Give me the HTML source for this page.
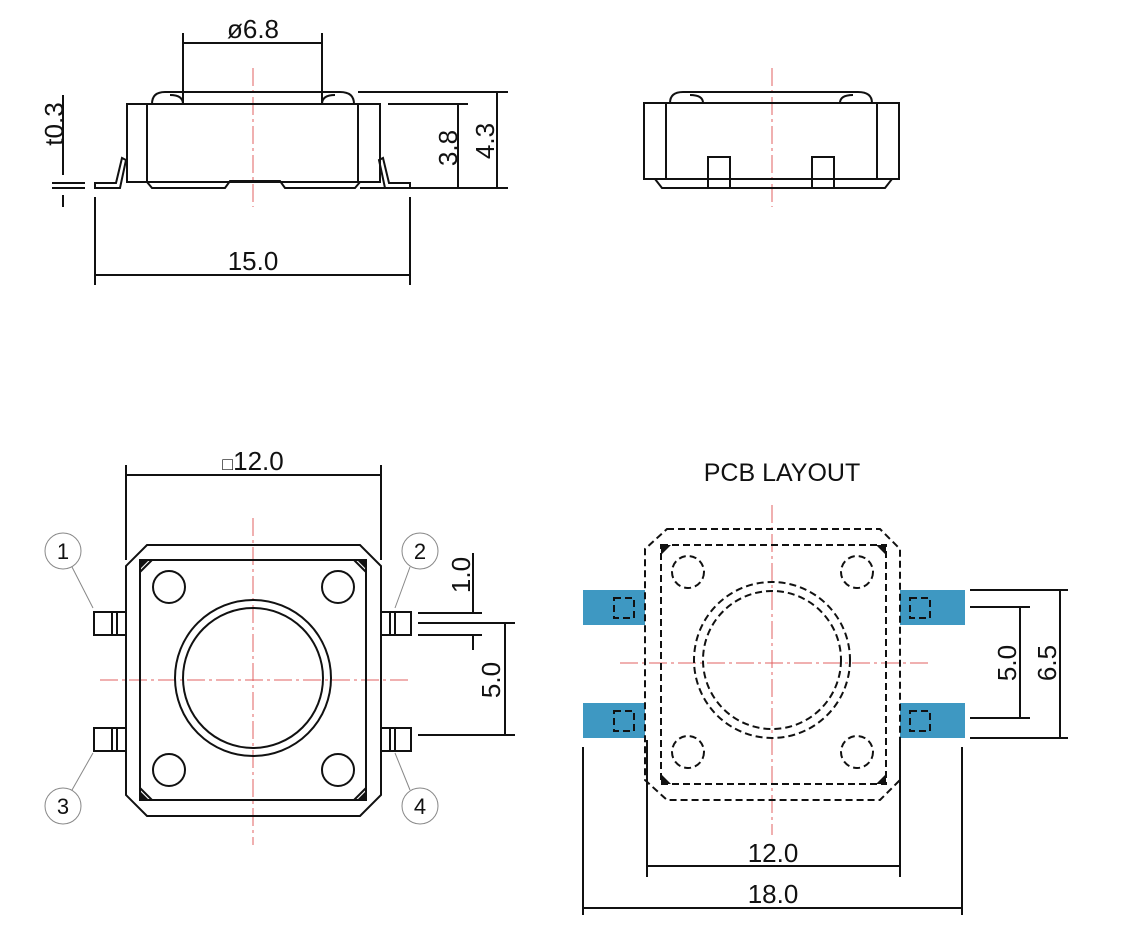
<!DOCTYPE html>
<html><head><meta charset="utf-8"><style>body{margin:0;background:#fff}svg{display:block}text{font-family:"Liberation Sans",sans-serif;fill:#111}</style></head><body>
<svg width="1132" height="930" viewBox="0 0 1132 930" xmlns="http://www.w3.org/2000/svg">
<g stroke="#e06060" stroke-width="1" stroke-dasharray="18,4,3,4" fill="none">
<line x1="253" y1="68" x2="253" y2="207"/>
<line x1="772" y1="68" x2="772" y2="207"/>
<line x1="253" y1="518" x2="253" y2="845"/>
<line x1="100" y1="680" x2="412" y2="680"/>
<line x1="772" y1="505" x2="772" y2="835"/>
<line x1="620" y1="663" x2="930" y2="663"/>
</g>
<g stroke="#111" stroke-width="2" fill="none">
<!-- top-left side view -->
<rect x="127" y="104" width="253" height="78"/>
<line x1="147" y1="104" x2="147" y2="182"/><line x1="358" y1="104" x2="358" y2="182"/>
<path d="M152 104 Q152 92 165 92 L340 92 Q354 92 354 104"/>
<path d="M183 104 Q183 95 170 95 M322 104 Q322 95 335 95"/>
<path d="M147 182 L152 188 L225 188 L230 181 L280 181 L285 188 L355 188 L360 182"/>
<path d="M95 188 L120 188 L126 160 L122 158 L116 183 L95 183 Z"/>
<path d="M410 188 L385 188 L379 160 L383 158 L389 183 L410 183 Z"/>
<line x1="183" y1="33" x2="183" y2="103"/><line x1="322" y1="33" x2="322" y2="103"/><line x1="183" y1="43" x2="322" y2="43"/>
<line x1="358" y1="92" x2="508" y2="92"/><line x1="388" y1="104" x2="468" y2="104"/><line x1="360" y1="188" x2="508" y2="188"/>
<line x1="458" y1="104" x2="458" y2="188"/><line x1="497" y1="92" x2="497" y2="188"/>
<line x1="63" y1="95" x2="63" y2="175"/><line x1="52" y1="183" x2="85" y2="183"/><line x1="52" y1="188" x2="85" y2="188"/><line x1="63" y1="195" x2="63" y2="207"/>
<line x1="95" y1="197" x2="95" y2="285"/><line x1="410" y1="197" x2="410" y2="285"/><line x1="95" y1="275" x2="410" y2="275"/>
<!-- top-right -->
<rect x="644" y="103" width="255" height="76"/>
<line x1="666" y1="103" x2="666" y2="179"/><line x1="877" y1="103" x2="877" y2="179"/>
<path d="M670 103 Q670 92 683 92 L858 92 Q872 92 872 103"/>
<path d="M703 103 Q703 95 690 95 M840 103 Q840 95 853 95"/>
<line x1="703" y1="92" x2="840" y2="92"/>
<path d="M655 179 L662 188 L885 188 L892 179"/>
<rect x="708" y="157" width="22" height="31"/><rect x="812" y="157" width="22" height="31"/>
<!-- bottom-left top view -->
<path d="M147 545 L360 545 L381 566 L381 795 L360 816 L147 816 L126 795 L126 566 Z"/>
<rect x="140" y="560" width="226" height="240"/>
<path d="M140 572 L152 560 M354 560 L366 572 M140 788 L152 800 M354 800 L366 788"/>
<circle cx="169" cy="587" r="16"/><circle cx="338" cy="587" r="16"/><circle cx="169" cy="770" r="16"/><circle cx="338" cy="770" r="16"/>
<circle cx="253" cy="678" r="78"/><circle cx="253" cy="678" r="70"/>
<rect x="94" y="612" width="32" height="23"/><rect x="94" y="728" width="32" height="23"/>
<rect x="381" y="612" width="30" height="23"/><rect x="381" y="728" width="30" height="23"/>
<line x1="112" y1="612" x2="112" y2="635"/><line x1="117" y1="612" x2="117" y2="635"/>
<line x1="112" y1="728" x2="112" y2="751"/><line x1="117" y1="728" x2="117" y2="751"/>
<line x1="390" y1="612" x2="390" y2="635"/><line x1="395" y1="612" x2="395" y2="635"/>
<line x1="390" y1="728" x2="390" y2="751"/><line x1="395" y1="728" x2="395" y2="751"/>
<line x1="126" y1="465" x2="126" y2="560"/><line x1="381" y1="465" x2="381" y2="560"/><line x1="126" y1="475" x2="381" y2="475"/>
<line x1="418" y1="613" x2="482" y2="613"/><line x1="418" y1="623" x2="515" y2="623"/><line x1="418" y1="635" x2="482" y2="635"/><line x1="418" y1="735" x2="515" y2="735"/>
<line x1="473" y1="553" x2="473" y2="613"/><line x1="473" y1="635" x2="473" y2="650"/><line x1="505" y1="623" x2="505" y2="735"/>
<!-- PCB -->
<line x1="647" y1="740" x2="647" y2="877"/><line x1="900" y1="740" x2="900" y2="877"/><line x1="647" y1="866" x2="900" y2="866"/>
<line x1="583" y1="747" x2="583" y2="915"/><line x1="962" y1="747" x2="962" y2="915"/><line x1="583" y1="908" x2="962" y2="908"/>
<line x1="970" y1="590" x2="1068" y2="590"/><line x1="970" y1="607" x2="1030" y2="607"/><line x1="970" y1="718" x2="1030" y2="718"/><line x1="970" y1="738" x2="1068" y2="738"/>
<line x1="1020" y1="607" x2="1020" y2="718"/><line x1="1060" y1="590" x2="1060" y2="738"/>
</g>
<g stroke="#888" stroke-width="1" fill="none">
<circle cx="63" cy="551" r="18"/><circle cx="420" cy="551" r="18"/><circle cx="63" cy="806" r="18"/><circle cx="420" cy="806" r="18"/>
<line x1="72" y1="567" x2="93" y2="608"/><line x1="410" y1="567" x2="395" y2="608"/><line x1="72" y1="790" x2="93" y2="753"/><line x1="410" y1="790" x2="395" y2="753"/>
</g>
<g fill="#3e98c2">
<rect x="583" y="590" width="62" height="35"/><rect x="583" y="703" width="62" height="35"/>
<rect x="900" y="590" width="65" height="35"/><rect x="900" y="703" width="65" height="35"/>
</g>
<g stroke="#111" stroke-width="2" fill="none" stroke-dasharray="7,4">
<path d="M667 529 L880 529 L900 549 L900 780 L880 800 L667 800 L645 780 L645 549 Z"/>
<rect x="661" y="545" width="225" height="239"/>
<circle cx="688" cy="572" r="16"/><circle cx="857" cy="572" r="16"/><circle cx="688" cy="752" r="16"/><circle cx="857" cy="752" r="16"/>
<circle cx="772" cy="660" r="78"/><circle cx="772" cy="660" r="69"/>
<rect x="614" y="598" width="20" height="20"/><rect x="614" y="711" width="20" height="20"/>
<rect x="910" y="598" width="20" height="20"/><rect x="910" y="711" width="20" height="20"/>
</g>
<g fill="#111"><path d="M661 545 L671 545 L661 555Z M886 545 L876 545 L886 555Z M661 784 L671 784 L661 774Z M886 784 L876 784 L886 774Z"/>
<path d="M141 561 L148 561 L141 568Z M365 561 L358 561 L365 568Z M141 799 L148 799 L141 792Z M365 799 L358 799 L365 792Z"/></g>
<g font-size="26" text-anchor="middle">
<text x="253" y="38">ø6.8</text>
<text x="253" y="270">15.0</text>
<text x="253" y="470"><tspan font-size="18">□</tspan>12.0</text>
<text x="782" y="481" font-size="25">PCB LAYOUT</text>
<text x="773" y="862">12.0</text>
<text x="773" y="903">18.0</text>
<text transform="translate(457,148) rotate(-90)">3.8</text>
<text transform="translate(494,141) rotate(-90)">4.3</text>
<text transform="translate(63,124) rotate(-90)">t0.3</text>
<text transform="translate(470,575) rotate(-90)">1.0</text>
<text transform="translate(500,680) rotate(-90)">5.0</text>
<text transform="translate(1016,663) rotate(-90)">5.0</text>
<text transform="translate(1056,663) rotate(-90)">6.5</text>
</g>
<g font-size="22" text-anchor="middle">
<text x="63" y="559">1</text><text x="420" y="559">2</text><text x="63" y="814">3</text><text x="420" y="814">4</text>
</g>
</svg>
</body></html>
